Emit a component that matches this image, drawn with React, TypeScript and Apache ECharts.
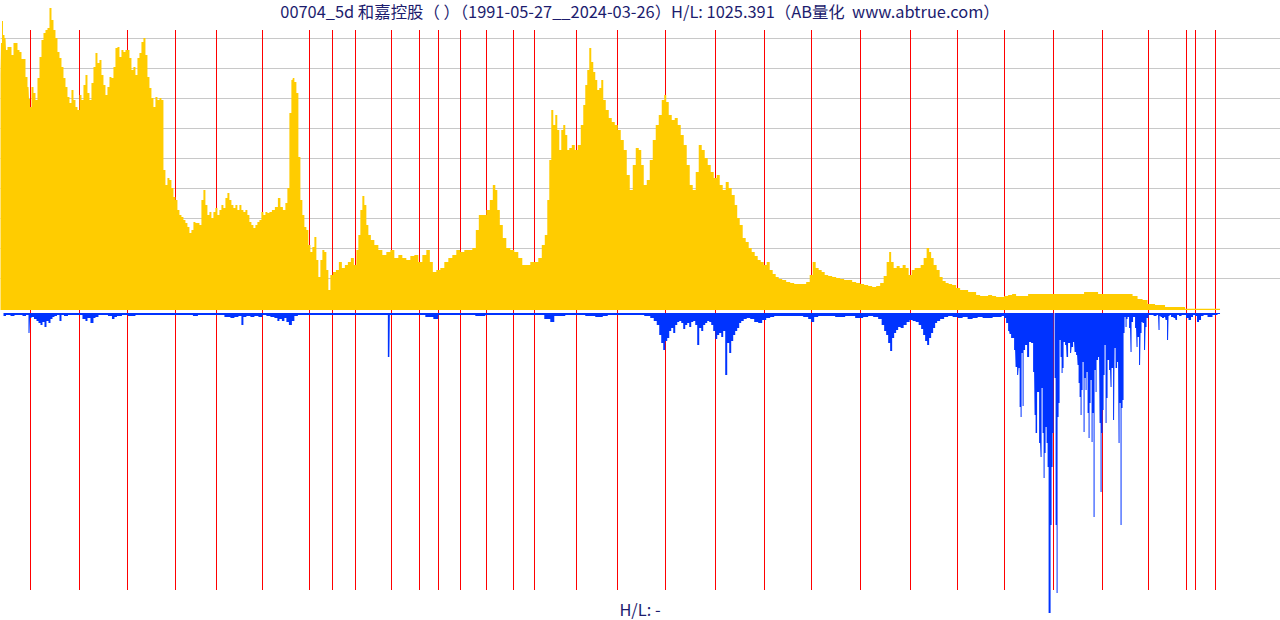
import React, { useEffect, useRef } from "react";
import * as echarts from "echarts";

// x = 5-day bar index, value = close price (relative units, peak = 302)
const pricePoints: [number, number][] = [
  [0, 236], [1, 267], [2, 289], [3, 275], [5, 272], [6, 260], [8, 263], [10, 263], [12, 255], [14, 267],
  [16, 267], [18, 260], [20, 258], [22, 251], [24, 251], [26, 233], [28, 223], [29, 211], [30, 203], [32, 223],
  [34, 217], [36, 210], [38, 232], [40, 253], [42, 270], [44, 277], [46, 280], [48, 282], [50, 302], [52, 290],
  [54, 280], [56, 272], [58, 258], [60, 252], [62, 243], [64, 232], [66, 223], [68, 213], [70, 207], [72, 220],
  [74, 210], [76, 203], [78, 200], [80, 215], [82, 210], [84, 225], [86, 235], [88, 217], [90, 210], [92, 227],
  [94, 243], [96, 257], [98, 247], [100, 250], [102, 235], [104, 225], [106, 215], [108, 223], [110, 233], [112, 232],
  [114, 243], [116, 262], [118, 263], [120, 253], [122, 260], [124, 258], [126, 260], [128, 260], [130, 252], [132, 240],
  [134, 243], [136, 235], [138, 252], [140, 257], [142, 268], [144, 272], [146, 255], [148, 233], [150, 222], [152, 212],
  [154, 203], [156, 213], [158, 210], [160, 212], [162, 210], [164, 140], [166, 125], [168, 132], [170, 130], [172, 122],
  [174, 113], [176, 110], [178, 100], [180, 95], [182, 93], [184, 90], [186, 87], [188, 83], [190, 77], [192, 80],
  [194, 88], [196, 87], [198, 87], [200, 85], [202, 110], [204, 120], [206, 105], [208, 95], [210, 98], [212, 92],
  [214, 98], [216, 102], [218, 95], [220, 100], [222, 105], [224, 102], [226, 112], [228, 117], [230, 110], [232, 105],
  [234, 102], [236, 105], [238, 100], [240, 105], [242, 100], [244, 98], [246, 100], [248, 95], [250, 88], [252, 85],
  [254, 82], [256, 85], [258, 88], [260, 90], [262, 98], [264, 95], [266, 98], [268, 97], [270, 98], [273, 100],
  [276, 103], [279, 112], [281, 103], [284, 100], [286, 107], [288, 122], [290, 197], [292, 230], [293, 232], [295, 228],
  [297, 217], [299, 153], [301, 110], [303, 95], [305, 83], [307, 80], [309, 65], [311, 58], [313, 63], [315, 73],
  [317, 50], [319, 33], [321, 50], [323, 60], [325, 58], [327, 40], [329, 20], [331, 35], [334, 38], [337, 40],
  [340, 48], [343, 42], [346, 45], [349, 48], [352, 52], [355, 45], [357, 60], [359, 75], [361, 100], [363, 114],
  [365, 105], [367, 85], [369, 75], [372, 70], [376, 65], [380, 60], [384, 55], [388, 58], [392, 60], [396, 52],
  [400, 55], [404, 52], [408, 50], [412, 54], [416, 55], [420, 48], [424, 55], [428, 60], [431, 48], [434, 38],
  [438, 40], [442, 42], [446, 48], [450, 52], [454, 55], [458, 60], [462, 58], [466, 60], [470, 60], [474, 62],
  [477, 80], [480, 95], [484, 95], [488, 100], [491, 110], [494, 125], [496, 120], [498, 100], [501, 85], [504, 72],
  [508, 62], [512, 60], [516, 58], [520, 52], [524, 45], [528, 45], [532, 48], [536, 48], [540, 52], [543, 65],
  [546, 75], [548, 110], [550, 150], [552, 200], [554, 185], [556, 195], [558, 180], [560, 160], [562, 180], [564, 185],
  [566, 175], [568, 160], [570, 162], [573, 165], [576, 160], [579, 165], [582, 185], [584, 205], [586, 225], [588, 240],
  [590, 262], [592, 248], [594, 238], [596, 230], [598, 220], [600, 222], [602, 230], [604, 210], [607, 200], [610, 192],
  [613, 188], [616, 185], [619, 180], [622, 170], [625, 160], [628, 135], [631, 120], [634, 145], [637, 162], [640, 160],
  [642, 145], [645, 125], [648, 130], [651, 150], [654, 170], [657, 185], [660, 195], [663, 210], [665, 215], [667, 208],
  [670, 195], [673, 190], [676, 192], [679, 185], [682, 175], [685, 165], [688, 145], [691, 125], [694, 120], [697, 138],
  [700, 165], [703, 160], [706, 152], [709, 145], [712, 138], [715, 132], [718, 135], [721, 125], [724, 120], [727, 128],
  [730, 122], [733, 115], [736, 105], [738, 92], [741, 85], [744, 72], [747, 68], [750, 62], [753, 58], [756, 54],
  [759, 50], [762, 48], [765, 45], [768, 48], [771, 40], [774, 36], [777, 33], [780, 31], [784, 30], [788, 28],
  [792, 27], [796, 26], [800, 26], [804, 26], [808, 28], [811, 35], [814, 48], [817, 42], [820, 40], [823, 38],
  [826, 35], [830, 34], [834, 33], [838, 32], [842, 31], [846, 30], [850, 30], [854, 28], [858, 27], [862, 26],
  [866, 25], [870, 24], [874, 23], [878, 24], [882, 27], [885, 34], [888, 48], [890, 58], [892, 48], [895, 42],
  [898, 44], [901, 42], [904, 45], [907, 42], [910, 35], [913, 40], [916, 42], [919, 42], [922, 45], [925, 52],
  [928, 62], [930, 58], [932, 52], [935, 45], [938, 40], [941, 33], [944, 29], [947, 27], [950, 26], [954, 25],
  [958, 22], [962, 20], [966, 20], [970, 18], [974, 18], [978, 15], [982, 14], [986, 14], [990, 15], [994, 14],
  [998, 13], [1002, 13], [1006, 14], [1010, 15], [1014, 16], [1018, 14], [1022, 14], [1026, 14], [1030, 16], [1040, 16],
  [1050, 16], [1060, 16], [1070, 16], [1080, 16], [1088, 18], [1096, 18], [1100, 16], [1110, 16], [1120, 16], [1130, 16],
  [1135, 14], [1140, 11], [1145, 10], [1150, 6], [1160, 5], [1170, 3], [1180, 3], [1190, 1.3], [1200, 1.3], [1210, 1.3],
  [1220, 1.3],
];

// x = 5-day bar index, value = traded volume (relative units, peak = 300)
const volumePoints: [number, number][] = [
  [3, 3], [8, 2], [12, 3], [16, 2], [20, 2], [24, 3], [27, 2], [29, 20], [30, 5], [32, 4],
  [35, 6], [37, 8], [39, 10], [41, 12], [43, 9], [45, 14], [47, 8], [49, 10], [51, 6], [53, 4],
  [55, 3], [58, 2], [60, 8], [62, 2], [65, 3], [70, 2], [75, 2], [80, 2], [84, 6], [86, 8],
  [88, 5], [92, 10], [94, 5], [96, 4], [100, 2], [105, 2], [110, 3], [113, 6], [115, 4], [118, 3],
  [125, 2], [130, 3], [140, 2], [150, 2], [160, 2], [170, 2], [180, 2], [190, 2], [195, 3], [200, 2],
  [210, 2], [220, 2], [228, 4], [232, 5], [236, 4], [240, 3], [242, 12], [244, 4], [248, 3], [252, 4],
  [256, 3], [260, 4], [264, 2], [268, 3], [272, 4], [276, 5], [278, 8], [280, 6], [283, 8], [285, 5],
  [287, 9], [290, 12], [293, 8], [295, 3], [300, 2], [310, 2], [320, 2], [330, 2], [340, 2], [350, 2],
  [360, 2], [370, 2], [380, 2], [386, 2], [389, 44], [390, 2], [400, 2], [410, 2], [420, 2], [430, 4],
  [436, 6], [440, 2], [450, 2], [460, 2], [470, 2], [480, 3], [490, 2], [500, 2], [510, 2], [520, 2],
  [530, 2], [540, 2], [548, 6], [552, 9], [556, 3], [560, 3], [570, 2], [580, 2], [590, 3], [600, 4],
  [605, 3], [610, 2], [620, 2], [630, 2], [640, 2], [648, 3], [652, 5], [655, 8], [658, 12], [660, 22],
  [662, 30], [664, 37], [666, 28], [668, 25], [670, 18], [672, 15], [674, 20], [676, 12], [678, 9], [680, 8],
  [682, 10], [684, 16], [686, 12], [688, 10], [690, 14], [692, 9], [694, 8], [696, 12], [698, 32], [700, 15],
  [702, 18], [704, 12], [706, 10], [708, 8], [710, 9], [712, 12], [714, 18], [716, 26], [718, 22], [720, 20],
  [722, 24], [724, 18], [726, 62], [728, 30], [730, 40], [732, 28], [734, 22], [736, 18], [738, 15], [740, 10],
  [742, 8], [745, 6], [748, 5], [752, 6], [756, 9], [760, 10], [764, 7], [768, 5], [772, 4], [776, 3],
  [780, 3], [790, 3], [800, 3], [806, 4], [810, 6], [812, 9], [816, 4], [820, 3], [830, 3], [840, 4],
  [850, 3], [860, 5], [866, 4], [870, 3], [876, 4], [880, 6], [883, 12], [885, 18], [887, 22], [889, 30],
  [891, 38], [893, 25], [895, 20], [897, 17], [899, 14], [902, 15], [905, 12], [908, 9], [911, 7], [914, 8],
  [917, 9], [920, 12], [922, 16], [924, 22], [926, 28], [928, 32], [930, 25], [932, 20], [934, 15], [936, 10],
  [938, 8], [942, 6], [946, 4], [950, 3], [955, 4], [960, 5], [965, 4], [970, 6], [975, 5], [980, 4],
  [985, 5], [990, 5], [995, 4], [1000, 4], [1003, 3], [1005, 5], [1007, 10], [1009, 18], [1010, 21], [1012, 25],
  [1013, 25], [1015, 37], [1016, 54], [1018, 62], [1019, 55], [1020, 94], [1021, 104], [1022, 40], [1023, 93], [1024, 37],
  [1026, 32], [1028, 44], [1030, 29], [1032, 30], [1034, 59], [1035, 102], [1036, 120], [1038, 79], [1040, 130], [1041, 144],
  [1042, 75], [1043, 120], [1044, 165], [1045, 140], [1046, 114], [1047, 130], [1048, 154], [1049, 300], [1050, 300], [1051, 212],
  [1052, 154], [1053, 120], [1054, 0], [1055, 65], [1056, 212], [1057, 280], [1058, 104], [1059, 90], [1060, 27], [1061, 44],
  [1062, 60], [1063, 55], [1064, 29], [1066, 32], [1067, 44], [1069, 30], [1071, 40], [1072, 34], [1074, 29], [1075, 39],
  [1077, 42], [1078, 52], [1079, 70], [1080, 84], [1081, 102], [1082, 77], [1083, 49], [1084, 119], [1085, 65], [1086, 77],
  [1087, 59], [1088, 100], [1089, 125], [1090, 90], [1091, 67], [1092, 129], [1093, 100], [1094, 204], [1095, 57], [1096, 79],
  [1097, 47], [1099, 44], [1100, 110], [1101, 179], [1102, 120], [1103, 97], [1104, 62], [1105, 32], [1106, 110], [1107, 85],
  [1108, 47], [1110, 57], [1111, 74], [1112, 55], [1114, 107], [1115, 35], [1116, 55], [1118, 49], [1119, 130], [1120, 90],
  [1121, 212], [1122, 95], [1123, 87], [1124, 20], [1125, 4], [1126, 14], [1127, 6], [1128, 4], [1130, 15], [1131, 39],
  [1132, 9], [1134, 4], [1136, 15], [1137, 34], [1138, 24], [1140, 52], [1141, 20], [1142, 9], [1143, 10], [1145, 37],
  [1146, 14], [1147, 5], [1150, 2], [1152, 2], [1155, 3], [1158, 2], [1159, 17], [1160, 3], [1161, 4], [1163, 5],
  [1165, 4], [1166, 7], [1168, 27], [1169, 3], [1170, 2], [1172, 4], [1175, 5], [1176, 7], [1178, 2], [1180, 3],
  [1183, 2], [1185, 2], [1187, 5], [1190, 7], [1192, 4], [1194, 2], [1196, 3], [1198, 9], [1200, 7], [1202, 3],
  [1205, 2], [1210, 4], [1215, 2], [1220, 1],
];

// first bar of each calendar year (1992 .. 2023)
const yearLabels = [
  "1992", "1993", "1994", "1995", "1996", "1997", "1998", "1999", "2000", "2001", "2002",
  "2003", "2004", "2005", "2006", "2007", "2008", "2009", "2010", "2011", "2012", "2013",
  "2014", "2015", "2016", "2017", "2018", "2019", "2020", "2021", "2022", "2023",
];
const yearStartBars = [
  30, 79, 127, 175, 216, 262, 309, 332, 355, 391, 419,
  438, 460, 486, 513, 534, 576, 617, 665, 715, 764, 811,
  860, 910, 957, 1004, 1053, 1102, 1148, 1186, 1195, 1215,
];

const titleText =
  "00704_5d 和嘉控股（ ）（1991-05-27__2024-03-26）H/L: 1025.391（AB量化  www.abtrue.com）";
const bottomText = "H/L: -";

const X_MAX = 1280;

const hiddenX = (gridIndex: number) => ({
  type: "value" as const,
  gridIndex,
  min: 0,
  max: X_MAX,
  show: false,
});

export default function App() {
  const backRef = useRef<HTMLDivElement>(null);
  const frontRef = useRef<HTMLDivElement>(null);

  useEffect(() => {
    if (!backRef.current || !frontRef.current) return;
    const font = "'Noto Sans CJK SC', 'Noto Sans', sans-serif";

    // back layer: grey guide lines and red year lines
    const back = echarts.init(backRef.current, null, { renderer: "svg" });
    back.setOption({
      animation: false,
      backgroundColor: "#ffffff",
      grid: [
        { left: 0.5, width: X_MAX, top: 38, height: 240 },
        { left: 0.5, width: X_MAX, top: 30, height: 560 },
      ],
      xAxis: [hiddenX(0), hiddenX(1)],
      yAxis: [
        {
          type: "value",
          gridIndex: 0,
          min: 0,
          max: 240,
          interval: 30,
          axisLine: { show: false },
          axisTick: { show: false },
          axisLabel: { show: false },
          splitLine: { show: true, lineStyle: { color: "#c8c8c8", width: 1 } },
        },
        { type: "value", gridIndex: 1, min: 0, max: 1, show: false },
      ],
      series: [
        {
          type: "line",
          xAxisIndex: 1,
          yAxisIndex: 1,
          data: [],
          silent: true,
          markLine: {
            silent: true,
            symbol: ["none", "none"],
            label: { show: false },
            lineStyle: { color: "#ff0000", width: 1, type: "solid" },
            data: yearStartBars.map((x, i) => ({ xAxis: x, name: yearLabels[i] })),
          },
        },
      ],
    });

    // front layer: price area, volume area, texts
    const front = echarts.init(frontRef.current, null, { renderer: "svg" });
    front.setOption({
      animation: false,
      backgroundColor: "transparent",
      title: [
        {
          text: titleText,
          left: "center",
          top: 3,
          padding: 0,
          textStyle: { fontSize: 16.4, fontWeight: "normal", color: "#1c1c6e", fontFamily: font },
        },
        {
          text: bottomText,
          left: "center",
          top: 601,
          padding: 0,
          textStyle: { fontSize: 16.4, fontWeight: "normal", color: "#1c1c6e", fontFamily: font },
        },
      ],
      grid: [
        { left: 0.5, width: X_MAX, top: 8, height: 302 },
        { left: 0.5, width: X_MAX, top: 313, height: 300 },
      ],
      xAxis: [hiddenX(0), hiddenX(1)],
      yAxis: [
        { type: "value", gridIndex: 0, min: 0, max: 302, show: false },
        { type: "value", gridIndex: 1, min: 0, max: 300, inverse: true, show: false },
      ],
      series: [
        {
          type: "line",
          name: "price",
          xAxisIndex: 0,
          yAxisIndex: 0,
          step: "middle",
          symbol: "none",
          showSymbol: false,
          lineStyle: { width: 0, color: "#ffcc00" },
          itemStyle: { color: "#ffcc00" },
          areaStyle: { color: "rgba(255,204,0,1)", opacity: 1 },
          data: pricePoints,
        },
        {
          type: "line",
          name: "volume",
          xAxisIndex: 1,
          yAxisIndex: 1,
          step: "middle",
          symbol: "none",
          showSymbol: false,
          lineStyle: { width: 0, color: "#0033ff" },
          itemStyle: { color: "#0033ff" },
          areaStyle: { color: "rgba(0,51,255,1)", opacity: 1 },
          data: volumePoints,
        },
      ],
    });
    return () => {
      back.dispose();
      front.dispose();
    };
  }, []);

  const layer: React.CSSProperties = { position: "fixed", left: 0, top: 0, width: 1280, height: 620 };
  return (
    <div>
      <div ref={backRef} style={{ ...layer, background: "#fff" }} />
      <div ref={frontRef} style={layer} />
    </div>
  );
}
